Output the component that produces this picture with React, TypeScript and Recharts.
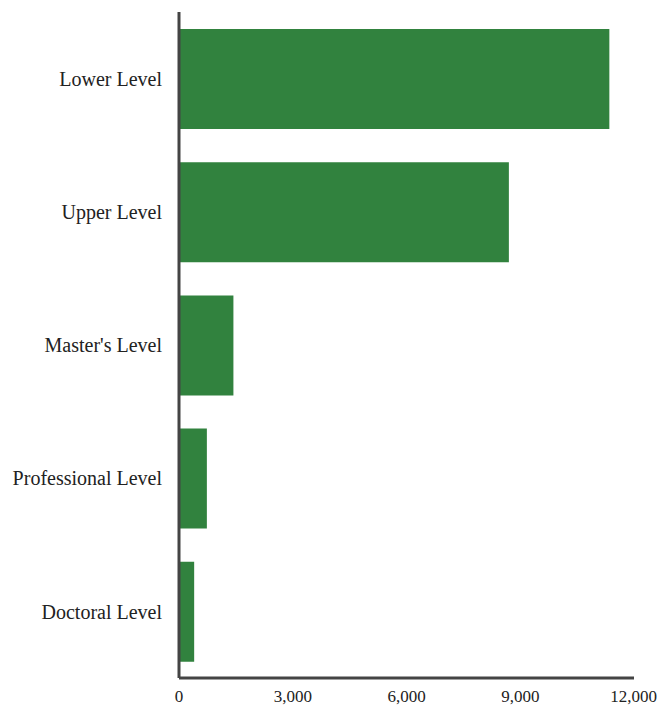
import React from "react";
import { BarChart, Bar, XAxis, YAxis } from "recharts";

const categories = ["Lower Level", "Upper Level", "Master's Level", "Professional Level", "Doctoral Level"];
const values = [11350, 8700, 1435, 735, 400];
const xTicks = [0, 3000, 6000, 9000, 12000];

const data = categories.map((name, i) => ({ name, value: values[i] }));

const FONT = "'Liberation Serif', 'DejaVu Serif', serif";

export default function App() {
  return (
    <div style={{ position: "absolute", left: 0, top: 0, width: 657, height: 710, background: "#fff" }}>
      <BarChart
        width={657}
        height={710}
        data={data}
        layout="vertical"
        margin={{ top: 12, right: 23, bottom: 0, left: 0 }}
        barCategoryGap="25%"
      >
        <XAxis
          type="number"
          domain={[0, 12000]}
          ticks={xTicks}
          tickFormatter={(v: number) => v.toLocaleString("en-US")}
          height={32}
          axisLine={{ stroke: "#444", strokeWidth: 3 }}
          tickLine={false}
          tickSize={10}
          tick={{ fill: "#222", fontSize: 17, fontFamily: FONT }}
        />
        <YAxis
          type="category"
          dataKey="name"
          width={179}
          axisLine={{ stroke: "#444", strokeWidth: 3 }}
          tickLine={false}
          tickSize={15}
          tick={{ fill: "#222", fontSize: 20, fontFamily: FONT }}
        />
        <Bar dataKey="value" fill="#31823e" barSize={100} isAnimationActive={false} />
      </BarChart>
    </div>
  );
}
